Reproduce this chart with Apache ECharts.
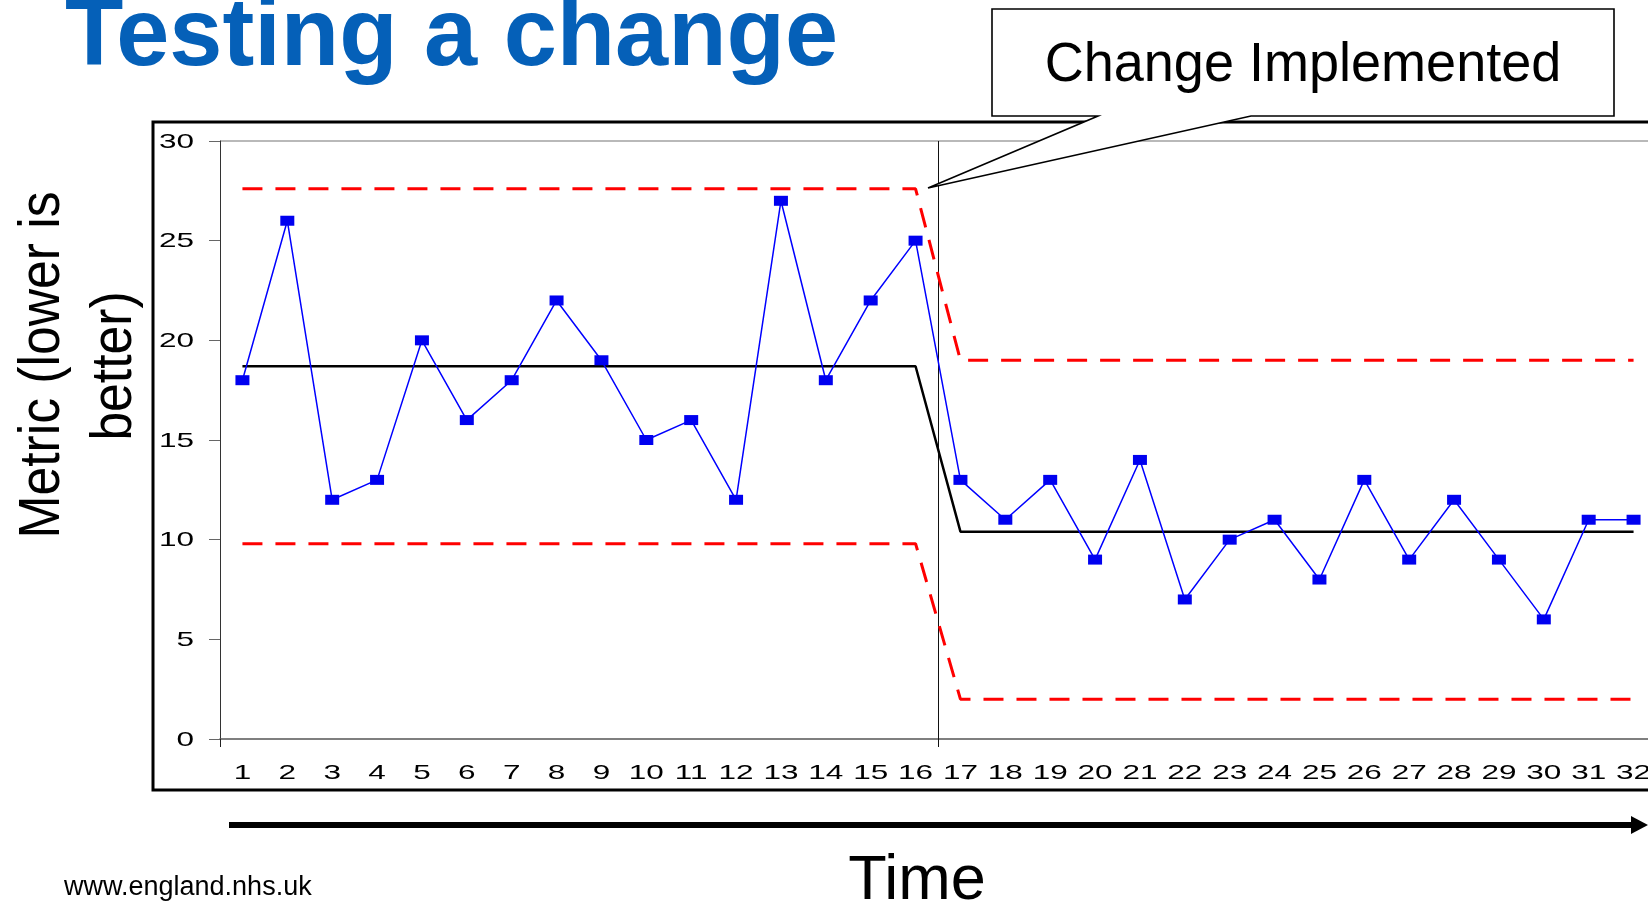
<!DOCTYPE html>
<html>
<head>
<meta charset="utf-8">
<style>
  html, body { margin: 0; padding: 0; background: #fff; overflow: hidden; }
  #chart { width: 1664px; height: 905px; }
</style>
<script src="https://cdn.jsdelivr.net/npm/echarts@6/dist/echarts.min.js"></script>
</head>
<body>
<div id="chart"></div>
<script>
// ---- data ----
const categories = ['1','2','3','4','5','6','7','8','9','10','11','12','13','14','15','16',
                    '17','18','19','20','21','22','23','24','25','26','27','28','29','30','31','32'];
const metricValues = [18, 26, 12, 13, 20, 16, 18, 22, 19, 15, 16, 12, 27, 18, 22, 25,
                      13, 11, 13, 9, 14, 7, 10, 11, 8, 13, 9, 12, 9, 6, 11, 11];
const meanValues = [18.7, 18.7, 18.7, 18.7, 18.7, 18.7, 18.7, 18.7, 18.7, 18.7, 18.7, 18.7, 18.7, 18.7, 18.7, 18.7,
                    10.4, 10.4, 10.4, 10.4, 10.4, 10.4, 10.4, 10.4, 10.4, 10.4, 10.4, 10.4, 10.4, 10.4, 10.4, 10.4];
const upperLimit = [27.6, 27.6, 27.6, 27.6, 27.6, 27.6, 27.6, 27.6, 27.6, 27.6, 27.6, 27.6, 27.6, 27.6, 27.6, 27.6,
                    19.0, 19.0, 19.0, 19.0, 19.0, 19.0, 19.0, 19.0, 19.0, 19.0, 19.0, 19.0, 19.0, 19.0, 19.0, 19.0];
const lowerLimit = [9.8, 9.8, 9.8, 9.8, 9.8, 9.8, 9.8, 9.8, 9.8, 9.8, 9.8, 9.8, 9.8, 9.8, 9.8, 9.8,
                    2.0, 2.0, 2.0, 2.0, 2.0, 2.0, 2.0, 2.0, 2.0, 2.0, 2.0, 2.0, 2.0, 2.0, 2.0, 2.0];
const yTickValues = [0, 5, 10, 15, 20, 25, 30];
const yTicks = { min: 0, max: 30, interval: 5 };
const changeIndex = 16; // change implemented just before period 17
const titleText = 'Testing a change';
const calloutText = 'Change Implemented';
const yTitleLines = ['Metric (lower is', 'better)'];
const xTitleText = 'Time';
const footerText = 'www.england.nhs.uk';

const chart = echarts.init(document.getElementById('chart'), null, { renderer: 'canvas' });

const sansFont = '"Liberation Sans", Arial, sans-serif';
const labelFont = '21px "Liberation Sans", Arial, sans-serif';
const labelStretch = 1.5;

const option = {
  animation: false,
  backgroundColor: '#ffffff',
  grid: { left: 220, top: 141, width: 1436, height: 598, containLabel: false },
  xAxis: {
    type: 'category',
    data: categories,
    boundaryGap: true,
    axisLine: { show: true, lineStyle: { color: '#555', width: 1.5 } },
    axisTick: {
      show: true, length: 8,
      interval: function (i) { return i === 0; },
      lineStyle: { color: '#222', width: 1 }
    },
    axisLabel: { show: false },
    splitLine: { show: false }
  },
  yAxis: {
    type: 'value',
    min: yTicks.min, max: yTicks.max, interval: yTicks.interval,
    axisLine: { show: true, lineStyle: { color: '#333', width: 1 } },
    axisTick: { show: true, length: 11, lineStyle: { color: '#666', width: 1 } },
    axisLabel: { show: false },
    splitLine: {
      show: true,
      lineStyle: { color: ['transparent','transparent','transparent','transparent','transparent','transparent','#b9b9b9'], width: 2 }
    }
  },
  series: [
    {
      // vertical marker at the boundary where the change was implemented
      name: 'Change', type: 'custom', clip: false, silent: true, z: 1,
      data: [[changeIndex, 0]],
      renderItem: function (params, api) {
        const idx = api.value(0);
        const pt = api.coord([idx, 0]);
        const band = api.size([1, 0])[0];
        const x = Math.round(pt[0] - band / 2) + 0.5;
        const cs = params.coordSys;
        return {
          type: 'line',
          shape: { x1: x, y1: cs.y, x2: x, y2: cs.y + cs.height + 8 },
          style: { stroke: '#111', lineWidth: 1 }
        };
      }
    },
    {
      name: 'Upper limit', type: 'line', data: upperLimit, symbol: 'none', z: 2,
      lineStyle: { color: '#ff0000', width: 3, type: [20, 13] }
    },
    {
      name: 'Lower limit', type: 'line', data: lowerLimit, symbol: 'none', z: 2,
      lineStyle: { color: '#ff0000', width: 3, type: [20, 13] }
    },
    {
      name: 'Mean', type: 'line', data: meanValues, symbol: 'none', z: 3,
      lineStyle: { color: '#000000', width: 2.5 }
    },
    {
      name: 'Metric', type: 'line', data: metricValues, z: 4,
      symbol: 'rect', symbolSize: [14, 10],
      itemStyle: { color: '#0000f0' },
      lineStyle: { color: '#0000ff', width: 1.5 }
    },
    {
      // x tick labels (stretched like the original slide)
      name: 'xLabels', type: 'custom', clip: false, silent: true, z: 5,
      data: categories.map(function (c, i) { return [i, 0]; }),
      renderItem: function (params, api) {
        const idx = api.value(0);
        const pt = api.coord([idx, 0]);
        return {
          type: 'text', x: pt[0], y: pt[1] + 34.5, scaleX: labelStretch,
          style: { text: categories[idx], font: labelFont, fill: '#000', align: 'center', verticalAlign: 'middle' }
        };
      }
    },
    {
      // y tick labels
      name: 'yLabels', type: 'custom', clip: false, silent: true, z: 5,
      data: yTickValues.map(function (v) { return [0, v]; }),
      renderItem: function (params, api) {
        const v = api.value(1);
        const pt = api.coord([0, v]);
        return {
          type: 'text', x: params.coordSys.x - 26, y: pt[1] + 1, scaleX: labelStretch,
          style: { text: String(v), font: labelFont, fill: '#000', align: 'right', verticalAlign: 'middle' }
        };
      }
    }
  ],
  graphic: [
    // outer plot frame
    { type: 'rect', z: 50, silent: true,
      shape: { x: 153, y: 122, width: 1600, height: 668 },
      style: { fill: 'none', stroke: '#000', lineWidth: 3 } },
    // callout box with tail
    { type: 'polygon', z: 60, silent: true,
      shape: { points: [[992, 9], [1614, 9], [1614, 116], [1251, 116], [928, 188], [1098, 116], [992, 116]] },
      style: { fill: '#fff', stroke: '#000', lineWidth: 1.6 } },
    { type: 'text', z: 61, x: 1303, y: 66, scaleX: 0.965, silent: true,
      style: { text: calloutText, font: '56px ' + sansFont, fill: '#000', align: 'center', verticalAlign: 'middle' } },
    // title
    { type: 'text', z: 61, x: 65, y: 39, silent: true,
      style: { text: titleText, font: 'bold 95.5px ' + sansFont, fill: '#0560b8', align: 'left', verticalAlign: 'middle' } },
    // y axis title (two lines)
    { type: 'text', z: 61, x: 43, y: 365, rotation: Math.PI / 2, scaleX: 0.89, silent: true,
      style: { text: yTitleLines[0], font: '58px ' + sansFont, fill: '#000', align: 'center', verticalAlign: 'middle' } },
    { type: 'text', z: 61, x: 115, y: 366, rotation: Math.PI / 2, scaleX: 0.89, silent: true,
      style: { text: yTitleLines[1], font: '58px ' + sansFont, fill: '#000', align: 'center', verticalAlign: 'middle' } },
    // time arrow
    { type: 'line', z: 61, silent: true,
      shape: { x1: 229, y1: 825, x2: 1634, y2: 825 },
      style: { stroke: '#000', lineWidth: 6 } },
    { type: 'polygon', z: 61, silent: true,
      shape: { points: [[1631, 816], [1648, 825], [1631, 834]] },
      style: { fill: '#000' } },
    { type: 'text', z: 61, x: 917, y: 882, silent: true,
      style: { text: xTitleText, font: '63px ' + sansFont, fill: '#000', align: 'center', verticalAlign: 'middle' } },
    // footer
    { type: 'text', z: 61, x: 64, y: 888, silent: true,
      style: { text: footerText, font: '27px ' + sansFont, fill: '#000', align: 'left', verticalAlign: 'middle' } }
  ]
};

chart.setOption(option);
</script>
</body>
</html>
